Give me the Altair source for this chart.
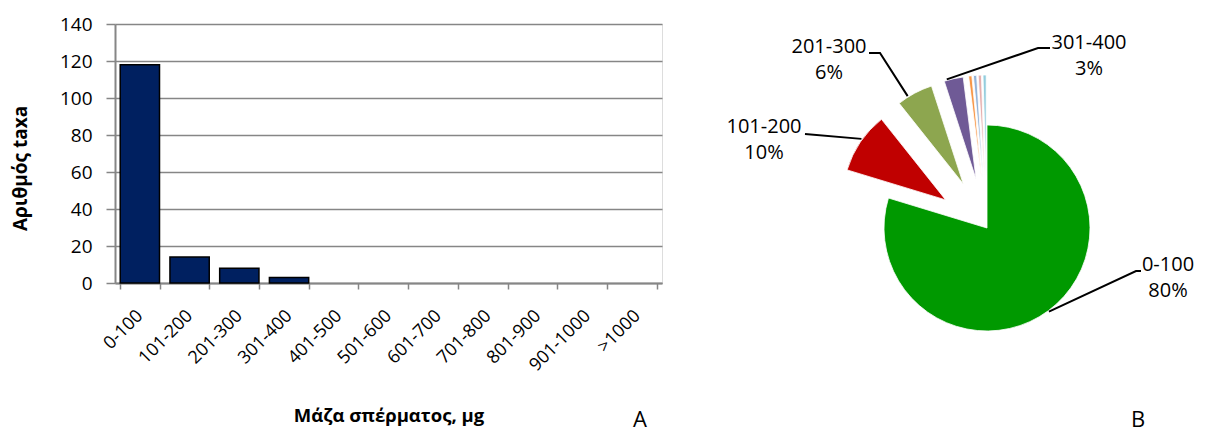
import math
import altair as alt
import pandas as pd

# ---------------- data ----------------
categories = ["0-100", "101-200", "201-300", "301-400", "401-500", "501-600",
              "601-700", "701-800", "801-900", "901-1000", ">1000"]
taxa_counts = [118, 14, 8, 3, 0, 0, 0, 0, 0, 0, 0]

pie_categories = ["0-100", "101-200", "201-300", "301-400",
                  "401-500", "501-600", "601-700", "701-800"]
pie_percent = [79.7, 9.6, 5.7, 3.0, 0.5, 0.5, 0.5, 0.5]
pie_colors = ["#009900", "#C00000", "#8DA64F", "#6F5A96",
              "#F79646", "#95B3D7", "#E6B0AF", "#93CDDD"]
panel_letters = ["A", "B"]

# ---------------- layout (pixels, relative to plot origin) ----------------
FONT = "Open Sans"
W, H = 547, 259
CX, CY = 872, 204          # pie centre
R = 103                    # pie radius
EXPLODE = 50               # explosion distance for all slices but the first
# leader start (fraction along slice), elbow, end of leader, text anchor (rel. to pie centre)
label_layout = {
    "0-100":   (0.5, (149, 43), (154, 43), (181, 43)),
    "101-200": (0.55, (-182, -94), (-182, -94), (-223, -95)),
    "201-300": (0.3, (-107, -175), (-118, -175), (-158, -175)),
    "301-400": (0.15, (51, -180), (63, -180), (102, -179)),
}
letter_pos = {"A": (525, 403), "B": (1023, 403)}

# ---------------- derived tables ----------------
bars = pd.DataFrame({"cat": categories, "count": taxa_counts})

total = sum(pie_percent)
rows, cum = [], 0.0
for i, (c, v) in enumerate(zip(pie_categories, pie_percent)):
    mid = 2 * math.pi * (cum + v / 2) / total
    off = 0 if i == 0 else EXPLODE
    cx = CX + off * math.sin(mid)
    cy = CY - off * math.cos(mid)
    rows.append(dict(cat=c, pct=v, idx=i, cx=cx, cy=cy, start=cum))
    cum += v
pie = pd.DataFrame(rows)

lead_rows, text_rows = [], []
for r in rows:
    if r["cat"] not in label_layout:
        continue
    frac, (ex, ey), (nx, ny), (tx, ty) = label_layout[r["cat"]]
    a = 2 * math.pi * (r["start"] + frac * r["pct"]) / total
    sx = r["cx"] + (R + 1) * math.sin(a)
    sy = r["cy"] - (R + 1) * math.cos(a)
    for k, (px, py) in enumerate([(sx, sy), (CX + ex, CY + ey), (CX + nx, CY + ny)]):
        lead_rows.append(dict(cat=r["cat"], k=k, px=px, py=py))
    text_rows.append(dict(cat=r["cat"], px=CX + tx, py=CY + ty,
                          label=f"{r['cat']}\n{round(r['pct'])}%"))
leads = pd.DataFrame(lead_rows)
texts = pd.DataFrame(text_rows)
letters = pd.DataFrame([dict(letter=l, px=letter_pos[l][0], py=letter_pos[l][1])
                        for l in panel_letters])

GRAY = "#868686"

bar_layer = alt.Chart(bars).transform_filter("datum.count > 0").mark_bar(
    color="#002060", stroke="black", strokeWidth=1.5).encode(
    x=alt.X("cat:N", sort=categories,
            scale=alt.Scale(domain=categories, paddingInner=0.21, paddingOuter=0.105),
            axis=alt.Axis(title="Μάζα σπέρματος, μg", labelAngle=-45, labelAlign="right",
                          labelBaseline="middle", labelFont=FONT, labelFontSize=18,
                          labelColor="black", labelPadding=24, tickBand="extent",
                          tickSize=6, tickWidth=1.5, tickColor=GRAY, domainColor=GRAY,
                          domainWidth=2, grid=False, titleFont=FONT, titleFontSize=18.5,
                          titleFontWeight="bold", titleColor="black", titleY=138,
                          titleBaseline="alphabetic")),
    y=alt.Y("count:Q", scale=alt.Scale(domain=[0, 140], nice=False),
            axis=alt.Axis(title="Αριθμός taxa", values=list(range(0, 141, 20)),
                          grid=True, gridColor=GRAY, gridWidth=1.5, domainColor=GRAY,
                          domainWidth=2, tickColor=GRAY, tickSize=9, tickWidth=1.5,
                          labelFont=FONT, labelFontSize=19, labelColor="black",
                          labelPadding=14, titleFont=FONT, titleFontSize=19,
                          titleFontWeight="bold", titleColor="black", titleX=-95,
                          titleY=144, titleBaseline="middle")),
)

pie_layer = alt.Chart(pie).mark_arc(radius=R, stroke="white", strokeWidth=0.8).encode(
    theta=alt.Theta("pct:Q", stack=True),
    order=alt.Order("idx:Q", sort="ascending"),
    color=alt.Color("cat:N", scale=alt.Scale(domain=pie_categories, range=pie_colors),
                    legend=None),
    x=alt.X("cx:Q", scale=None, axis=None),
    y=alt.Y("cy:Q", scale=None, axis=None),
)

lead_layer = alt.Chart(leads).mark_line(color="black", strokeWidth=2).encode(
    x=alt.X("px:Q", scale=None, axis=None),
    y=alt.Y("py:Q", scale=None, axis=None),
    detail="cat:N",
    order="k:Q",
)

text_layer = alt.Chart(texts).mark_text(font=FONT, fontSize=20, color="black",
                                        align="center", baseline="alphabetic",
                                        lineBreak="\n", lineHeight=26).encode(
    x=alt.X("px:Q", scale=None, axis=None),
    y=alt.Y("py:Q", scale=None, axis=None),
    text="label:N",
)

letter_layer = alt.Chart(letters).mark_text(font=FONT, fontSize=22, color="black",
                                            align="center", baseline="alphabetic").encode(
    x=alt.X("px:Q", scale=None, axis=None),
    y=alt.Y("py:Q", scale=None, axis=None),
    text="letter:N",
)

chart = alt.layer(bar_layer, pie_layer, lead_layer, text_layer, letter_layer).properties(
    width=W, height=H, autosize="none",
    padding={"left": 107, "top": 16, "right": 1189 - 107 - W, "bottom": 426 - 16 - H},
).configure_view(stroke=None).configure(background="white")

chart.save("out.html", embed_options={"renderer": "svg", "actions": False})
